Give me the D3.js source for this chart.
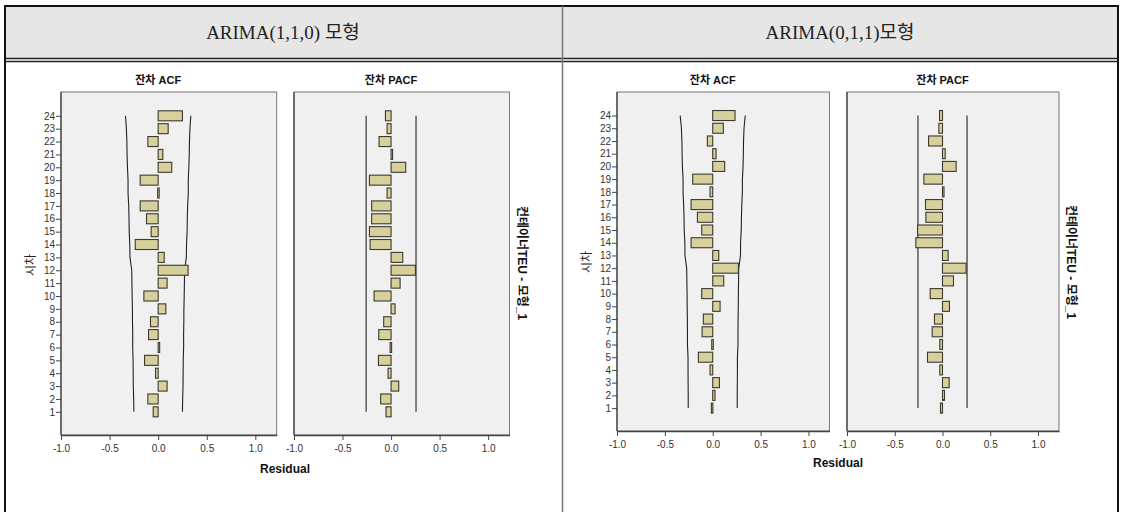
<!DOCTYPE html>
<html>
<head>
<meta charset="utf-8">
<script src="https://cdn.jsdelivr.net/npm/d3@7"></script>
<style>
  body { margin: 0; background: #fff; }
  svg { display: block; }
</style>
</head>
<body>
<div id="chart"></div>
<script>
// Lags 1..24
const lags = d3.range(1, 25);
const xTicks = [-1.0, -0.5, 0.0, 0.5, 1.0];

// ARIMA(1,1,0) residual ACF / PACF (lag 1..24)
const acfLeft = [-0.051, -0.106, 0.092, -0.027, -0.14, 0.006, -0.099, -0.079, 0.079, -0.147,
  0.092, 0.308, 0.062, -0.236, -0.072, -0.12, -0.185, -0.005, -0.185, 0.14,
  0.048, -0.106, 0.103, 0.25];
const pacfLeft = [-0.052, -0.107, 0.079, -0.031, -0.13, -0.01, -0.127, -0.076, 0.041, -0.175,
  0.093, 0.251, 0.12, -0.216, -0.223, -0.2, -0.2, -0.041, -0.223, 0.151,
  0.005, -0.124, -0.041, -0.058];
// Confidence limits for ACF (upper; lower is the negative)
const acfLimitLeft = [0.25, 0.252, 0.256, 0.257, 0.258, 0.262, 0.262, 0.264, 0.265, 0.268,
  0.27, 0.272, 0.29, 0.292, 0.298, 0.3, 0.303, 0.31, 0.31, 0.316,
  0.32, 0.322, 0.327, 0.336];

// ARIMA(0,1,1) residual ACF / PACF (lag 1..24)
const acfRight = [-0.014, 0.024, 0.07, -0.028, -0.15, -0.01, -0.111, -0.098, 0.077, -0.115,
  0.115, 0.268, 0.063, -0.226, -0.115, -0.16, -0.226, -0.028, -0.209, 0.125,
  0.035, -0.056, 0.111, 0.233];
const pacfRight = [-0.021, 0.021, 0.07, -0.028, -0.157, -0.028, -0.108, -0.084, 0.073, -0.129,
  0.115, 0.247, 0.059, -0.279, -0.261, -0.174, -0.178, 0.003, -0.195, 0.143,
  0.028, -0.146, -0.038, -0.031];
const acfLimitRight = [0.256, 0.256, 0.257, 0.258, 0.258, 0.264, 0.264, 0.265, 0.267, 0.268,
  0.27, 0.272, 0.29, 0.291, 0.298, 0.3, 0.304, 0.31, 0.31, 0.317,
  0.32, 0.322, 0.327, 0.34];
const pacfLimit = 0.257;

const headers = ["ARIMA(1,1,0)  모형", "ARIMA(0,1,1)모형"];
const sideLabel = "컨테이너TEU - 모형_1";

const W = 1121, H = 512;
const svg = d3.select("#chart").append("svg")
  .attr("width", W)
  .attr("height", H);

// Table background / header
svg.append("rect").attr("x", 5).attr("y", 6).attr("width", 1113).attr("height", 52)
  .attr("fill", "#e6e6e6");

svg.selectAll("text.header")
  .data(headers)
  .enter()
  .append("text")
  .attr("class", "header")
  .attr("x", (d, i) => i === 0 ? 283 : 840)
  .attr("y", 39)
  .attr("text-anchor", "middle")
  .attr("font-family", "'Liberation Serif', 'Noto Sans CJK KR', serif")
  .attr("font-size", 19)
  .attr("fill", "#222")
  .text(d => d);

// table lines
const line = (x1, y1, x2, y2, color, w) => svg.append("line")
  .attr("x1", x1).attr("y1", y1).attr("x2", x2).attr("y2", y2)
  .attr("stroke", color).attr("stroke-width", w);
line(5, 6, 1119, 6, "#111", 2);
line(5, 5, 5, H, "#111", 2);
line(1118, 5, 1118, H, "#111", 2);
line(5, 58.5, 1118, 58.5, "#222", 1.5);
line(5, 61.5, 1118, 61.5, "#222", 1.5);
line(562.5, 6, 562.5, H, "#777", 1.5);

// One panel of bars
function drawPanel(opt) {
  const x = d3.scaleLinear().domain([-1, 1.22]).range([opt.x0, opt.x1]);
  const y = d3.scaleLinear().domain([-0.8, 25.85]).range([opt.y1, opt.y0]);
  const g = svg.append("g");

  g.append("rect")
    .attr("x", opt.x0).attr("y", opt.y0)
    .attr("width", opt.x1 - opt.x0).attr("height", opt.y1 - opt.y0)
    .attr("fill", "#f0f0f0")
    .attr("stroke", "#777")
    .attr("stroke-width", 1);

  // confidence limits
  const lim = lags.map((l, i) => ({ lag: l, v: Array.isArray(opt.limit) ? opt.limit[i] : opt.limit }));
  [1, -1].forEach(s => {
    g.append("path")
      .datum(lim)
      .attr("fill", "none")
      .attr("stroke", "#222")
      .attr("stroke-width", 1.1)
      .attr("d", d3.line().x(d => x(s * d.v)).y(d => y(d.lag)));
  });

  // bars
  const bh = 10;
  g.selectAll("rect.bar")
    .data(lags.map((l, i) => ({ lag: l, v: opt.values[i] })))
    .enter()
    .append("rect")
    .attr("class", "bar")
    .attr("x", d => Math.min(x(0), x(d.v)))
    .attr("y", d => y(d.lag) - bh / 2)
    .attr("width", d => Math.max(1.5, Math.abs(x(d.v) - x(0))))
    .attr("height", bh)
    .attr("fill", "#d8d09c")
    .attr("stroke", "#3b3a2c")
    .attr("stroke-width", 1.1);

  // x axis (plain hyphen minus like the original)
  const xAxis = d3.axisBottom(x).tickValues(xTicks).tickFormat(d => d.toFixed(1)).tickSize(5).tickSizeOuter(0);
  const ax = g.append("g")
    .attr("transform", `translate(0,${opt.y1})`)
    .call(xAxis);
  ax.select(".domain").attr("stroke", "#444").attr("stroke-width", 1.3);
  ax.selectAll(".tick line").attr("stroke", "#444");
  ax.selectAll("text")
    .attr("font-family", "'Liberation Sans', Arial, sans-serif")
    .attr("font-size", 10)
    .attr("fill", "#333")
    .attr("dy", "0.9em");

  // left edge (axis line)
  g.append("line")
    .attr("x1", opt.x0).attr("x2", opt.x0)
    .attr("y1", opt.y0).attr("y2", opt.y1)
    .attr("stroke", "#444").attr("stroke-width", 1.3);

  if (opt.yAxis) {
    const yAxis = d3.axisLeft(y).tickValues(lags).tickFormat(d3.format("d")).tickSize(5).tickSizeOuter(0);
    const ay = g.append("g")
      .attr("transform", `translate(${opt.x0},0)`)
      .call(yAxis);
    ay.select(".domain").remove();
    ay.selectAll(".tick line").attr("stroke", "#444");
    ay.selectAll("text")
      .attr("font-family", "'Liberation Sans', Arial, sans-serif")
      .attr("font-size", 10)
      .attr("fill", "#333")
      .attr("x", -6);
  }

  // title
  g.append("text")
    .attr("x", x(0))
    .attr("y", opt.y0 - 8)
    .attr("text-anchor", "middle")
    .attr("font-family", "'Liberation Sans', 'Noto Sans CJK KR', sans-serif")
    .attr("font-size", 11)
    .attr("font-weight", "bold")
    .attr("fill", "#111")
    .text(opt.title);
}

drawPanel({ x0: 61, x1: 276.7, y0: 92, y1: 435, values: acfLeft, limit: acfLimitLeft, yAxis: true, title: "잔차 ACF" });
drawPanel({ x0: 294, x1: 509.5, y0: 92, y1: 435, values: pacfLeft, limit: pacfLimit, yAxis: false, title: "잔차 PACF" });
drawPanel({ x0: 617, x1: 829.5, y0: 92, y1: 431, values: acfRight, limit: acfLimitRight, yAxis: true, title: "잔차 ACF" });
drawPanel({ x0: 847, x1: 1059, y0: 92, y1: 431, values: pacfRight, limit: pacfLimit, yAxis: false, title: "잔차 PACF" });

// axis titles
const labelFont = "'Liberation Sans', 'Noto Sans CJK KR', sans-serif";
[{ x: 285, y: 473 }, { x: 838, y: 467 }].forEach(p => {
  svg.append("text")
    .attr("x", p.x).attr("y", p.y)
    .attr("text-anchor", "middle")
    .attr("font-family", labelFont)
    .attr("font-size", 12)
    .attr("font-weight", "bold")
    .attr("fill", "#111")
    .text("Residual");
});

[{ x: 31, y: 265 }, { x: 587, y: 262 }].forEach(p => {
  svg.append("text")
    .attr("transform", `translate(${p.x},${p.y}) rotate(-90)`)
    .attr("text-anchor", "middle")
    .attr("dy", "0.35em")
    .attr("font-family", labelFont)
    .attr("font-size", 12)
    .attr("fill", "#222")
    .text("시차");
});

[{ x: 522, y: 263 }, { x: 1071, y: 262 }].forEach(p => {
  svg.append("text")
    .attr("transform", `translate(${p.x},${p.y}) rotate(90)`)
    .attr("text-anchor", "middle")
    .attr("dy", "0.35em")
    .attr("font-family", labelFont)
    .attr("font-size", 12)
    .attr("font-weight", "bold")
    .attr("fill", "#111")
    .text(sideLabel);
});
</script>
</body>
</html>
